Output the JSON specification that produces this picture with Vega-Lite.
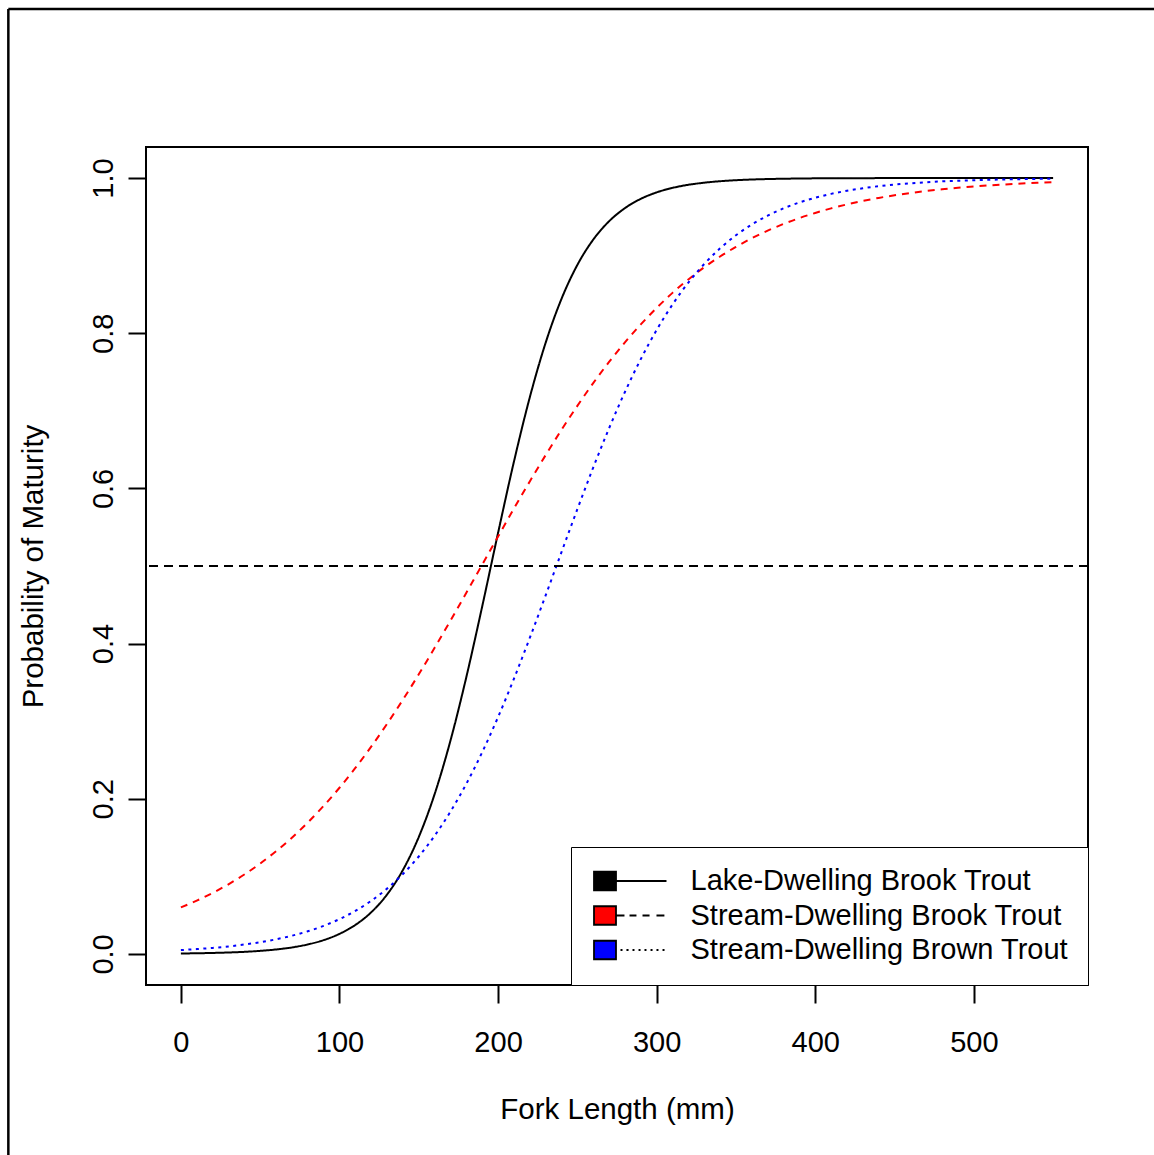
{
  "$schema": "https://vega.github.io/schema/vega-lite/v6.json",
  "width": 942,
  "height": 838,
  "autosize": {"type": "none"},
  "padding": {"left": 146, "top": 147, "right": 66, "bottom": 170},
  "background": "white",
  "config": {
    "font": "Liberation Sans",
    "view": {"stroke": "black", "strokeWidth": 2},
    "axis": {"labelFont": "Liberation Sans", "titleFont": "Liberation Sans"}
  },
  "datasets": {
    "curves": [
      {"series": "Lake-Dwelling Brook Trout", "length": 0, "p": 0.0006},
      {"series": "Lake-Dwelling Brook Trout", "length": 10, "p": 0.0009},
      {"series": "Lake-Dwelling Brook Trout", "length": 20, "p": 0.0013},
      {"series": "Lake-Dwelling Brook Trout", "length": 30, "p": 0.0019},
      {"series": "Lake-Dwelling Brook Trout", "length": 40, "p": 0.0027},
      {"series": "Lake-Dwelling Brook Trout", "length": 50, "p": 0.0040},
      {"series": "Lake-Dwelling Brook Trout", "length": 60, "p": 0.0058},
      {"series": "Lake-Dwelling Brook Trout", "length": 70, "p": 0.0084},
      {"series": "Lake-Dwelling Brook Trout", "length": 80, "p": 0.0123},
      {"series": "Lake-Dwelling Brook Trout", "length": 90, "p": 0.0178},
      {"series": "Lake-Dwelling Brook Trout", "length": 100, "p": 0.0259},
      {"series": "Lake-Dwelling Brook Trout", "length": 110, "p": 0.0374},
      {"series": "Lake-Dwelling Brook Trout", "length": 120, "p": 0.0537},
      {"series": "Lake-Dwelling Brook Trout", "length": 130, "p": 0.0766},
      {"series": "Lake-Dwelling Brook Trout", "length": 140, "p": 0.1082},
      {"series": "Lake-Dwelling Brook Trout", "length": 150, "p": 0.1507},
      {"series": "Lake-Dwelling Brook Trout", "length": 160, "p": 0.2060},
      {"series": "Lake-Dwelling Brook Trout", "length": 170, "p": 0.2751},
      {"series": "Lake-Dwelling Brook Trout", "length": 180, "p": 0.3569},
      {"series": "Lake-Dwelling Brook Trout", "length": 190, "p": 0.4479},
      {"series": "Lake-Dwelling Brook Trout", "length": 200, "p": 0.5426},
      {"series": "Lake-Dwelling Brook Trout", "length": 210, "p": 0.6344},
      {"series": "Lake-Dwelling Brook Trout", "length": 220, "p": 0.7173},
      {"series": "Lake-Dwelling Brook Trout", "length": 230, "p": 0.7877},
      {"series": "Lake-Dwelling Brook Trout", "length": 240, "p": 0.8443},
      {"series": "Lake-Dwelling Brook Trout", "length": 250, "p": 0.8880},
      {"series": "Lake-Dwelling Brook Trout", "length": 260, "p": 0.9206},
      {"series": "Lake-Dwelling Brook Trout", "length": 270, "p": 0.9443},
      {"series": "Lake-Dwelling Brook Trout", "length": 280, "p": 0.9612},
      {"series": "Lake-Dwelling Brook Trout", "length": 290, "p": 0.9732},
      {"series": "Lake-Dwelling Brook Trout", "length": 300, "p": 0.9815},
      {"series": "Lake-Dwelling Brook Trout", "length": 310, "p": 0.9873},
      {"series": "Lake-Dwelling Brook Trout", "length": 320, "p": 0.9913},
      {"series": "Lake-Dwelling Brook Trout", "length": 330, "p": 0.9940},
      {"series": "Lake-Dwelling Brook Trout", "length": 340, "p": 0.9959},
      {"series": "Lake-Dwelling Brook Trout", "length": 350, "p": 0.9972},
      {"series": "Lake-Dwelling Brook Trout", "length": 360, "p": 0.9981},
      {"series": "Lake-Dwelling Brook Trout", "length": 370, "p": 0.9987},
      {"series": "Lake-Dwelling Brook Trout", "length": 380, "p": 0.9991},
      {"series": "Lake-Dwelling Brook Trout", "length": 390, "p": 0.9994},
      {"series": "Lake-Dwelling Brook Trout", "length": 400, "p": 0.9996},
      {"series": "Lake-Dwelling Brook Trout", "length": 410, "p": 0.9997},
      {"series": "Lake-Dwelling Brook Trout", "length": 420, "p": 0.9998},
      {"series": "Lake-Dwelling Brook Trout", "length": 430, "p": 0.9998},
      {"series": "Lake-Dwelling Brook Trout", "length": 440, "p": 0.9999},
      {"series": "Lake-Dwelling Brook Trout", "length": 450, "p": 0.9999},
      {"series": "Lake-Dwelling Brook Trout", "length": 460, "p": 0.9999},
      {"series": "Lake-Dwelling Brook Trout", "length": 470, "p": 1.0},
      {"series": "Lake-Dwelling Brook Trout", "length": 480, "p": 1.0},
      {"series": "Lake-Dwelling Brook Trout", "length": 490, "p": 1.0},
      {"series": "Lake-Dwelling Brook Trout", "length": 500, "p": 1.0},
      {"series": "Lake-Dwelling Brook Trout", "length": 510, "p": 1.0},
      {"series": "Lake-Dwelling Brook Trout", "length": 520, "p": 1.0},
      {"series": "Lake-Dwelling Brook Trout", "length": 530, "p": 1.0},
      {"series": "Lake-Dwelling Brook Trout", "length": 540, "p": 1.0},
      {"series": "Lake-Dwelling Brook Trout", "length": 550, "p": 1.0},
      {"series": "Stream-Dwelling Brook Trout", "length": 0, "p": 0.0600},
      {"series": "Stream-Dwelling Brook Trout", "length": 10, "p": 0.0687},
      {"series": "Stream-Dwelling Brook Trout", "length": 20, "p": 0.0786},
      {"series": "Stream-Dwelling Brook Trout", "length": 30, "p": 0.0898},
      {"series": "Stream-Dwelling Brook Trout", "length": 40, "p": 0.1024},
      {"series": "Stream-Dwelling Brook Trout", "length": 50, "p": 0.1165},
      {"series": "Stream-Dwelling Brook Trout", "length": 60, "p": 0.1324},
      {"series": "Stream-Dwelling Brook Trout", "length": 70, "p": 0.1499},
      {"series": "Stream-Dwelling Brook Trout", "length": 80, "p": 0.1694},
      {"series": "Stream-Dwelling Brook Trout", "length": 90, "p": 0.1908},
      {"series": "Stream-Dwelling Brook Trout", "length": 100, "p": 0.2142},
      {"series": "Stream-Dwelling Brook Trout", "length": 110, "p": 0.2397},
      {"series": "Stream-Dwelling Brook Trout", "length": 120, "p": 0.2672},
      {"series": "Stream-Dwelling Brook Trout", "length": 130, "p": 0.2965},
      {"series": "Stream-Dwelling Brook Trout", "length": 140, "p": 0.3277},
      {"series": "Stream-Dwelling Brook Trout", "length": 150, "p": 0.3604},
      {"series": "Stream-Dwelling Brook Trout", "length": 160, "p": 0.3946},
      {"series": "Stream-Dwelling Brook Trout", "length": 170, "p": 0.4297},
      {"series": "Stream-Dwelling Brook Trout", "length": 180, "p": 0.4655},
      {"series": "Stream-Dwelling Brook Trout", "length": 190, "p": 0.5018},
      {"series": "Stream-Dwelling Brook Trout", "length": 200, "p": 0.5379},
      {"series": "Stream-Dwelling Brook Trout", "length": 210, "p": 0.5740},
      {"series": "Stream-Dwelling Brook Trout", "length": 220, "p": 0.6090},
      {"series": "Stream-Dwelling Brook Trout", "length": 230, "p": 0.6429},
      {"series": "Stream-Dwelling Brook Trout", "length": 240, "p": 0.6755},
      {"series": "Stream-Dwelling Brook Trout", "length": 250, "p": 0.7064},
      {"series": "Stream-Dwelling Brook Trout", "length": 260, "p": 0.7357},
      {"series": "Stream-Dwelling Brook Trout", "length": 270, "p": 0.7630},
      {"series": "Stream-Dwelling Brook Trout", "length": 280, "p": 0.7882},
      {"series": "Stream-Dwelling Brook Trout", "length": 290, "p": 0.8114},
      {"series": "Stream-Dwelling Brook Trout", "length": 300, "p": 0.8326},
      {"series": "Stream-Dwelling Brook Trout", "length": 310, "p": 0.8520},
      {"series": "Stream-Dwelling Brook Trout", "length": 320, "p": 0.8693},
      {"series": "Stream-Dwelling Brook Trout", "length": 330, "p": 0.8850},
      {"series": "Stream-Dwelling Brook Trout", "length": 340, "p": 0.8989},
      {"series": "Stream-Dwelling Brook Trout", "length": 350, "p": 0.9113},
      {"series": "Stream-Dwelling Brook Trout", "length": 360, "p": 0.9224},
      {"series": "Stream-Dwelling Brook Trout", "length": 370, "p": 0.9322},
      {"series": "Stream-Dwelling Brook Trout", "length": 380, "p": 0.9408},
      {"series": "Stream-Dwelling Brook Trout", "length": 390, "p": 0.9484},
      {"series": "Stream-Dwelling Brook Trout", "length": 400, "p": 0.9550},
      {"series": "Stream-Dwelling Brook Trout", "length": 410, "p": 0.9609},
      {"series": "Stream-Dwelling Brook Trout", "length": 420, "p": 0.9660},
      {"series": "Stream-Dwelling Brook Trout", "length": 430, "p": 0.9705},
      {"series": "Stream-Dwelling Brook Trout", "length": 440, "p": 0.9744},
      {"series": "Stream-Dwelling Brook Trout", "length": 450, "p": 0.9777},
      {"series": "Stream-Dwelling Brook Trout", "length": 460, "p": 0.9807},
      {"series": "Stream-Dwelling Brook Trout", "length": 470, "p": 0.9833},
      {"series": "Stream-Dwelling Brook Trout", "length": 480, "p": 0.9855},
      {"series": "Stream-Dwelling Brook Trout", "length": 490, "p": 0.9875},
      {"series": "Stream-Dwelling Brook Trout", "length": 500, "p": 0.9891},
      {"series": "Stream-Dwelling Brook Trout", "length": 510, "p": 0.9906},
      {"series": "Stream-Dwelling Brook Trout", "length": 520, "p": 0.9918},
      {"series": "Stream-Dwelling Brook Trout", "length": 530, "p": 0.9929},
      {"series": "Stream-Dwelling Brook Trout", "length": 540, "p": 0.9939},
      {"series": "Stream-Dwelling Brook Trout", "length": 550, "p": 0.9947},
      {"series": "Stream-Dwelling Brown Trout", "length": 0, "p": 0.0050},
      {"series": "Stream-Dwelling Brown Trout", "length": 10, "p": 0.0063},
      {"series": "Stream-Dwelling Brown Trout", "length": 20, "p": 0.0078},
      {"series": "Stream-Dwelling Brown Trout", "length": 30, "p": 0.0097},
      {"series": "Stream-Dwelling Brown Trout", "length": 40, "p": 0.0122},
      {"series": "Stream-Dwelling Brown Trout", "length": 50, "p": 0.0151},
      {"series": "Stream-Dwelling Brown Trout", "length": 60, "p": 0.0189},
      {"series": "Stream-Dwelling Brown Trout", "length": 70, "p": 0.0235},
      {"series": "Stream-Dwelling Brown Trout", "length": 80, "p": 0.0292},
      {"series": "Stream-Dwelling Brown Trout", "length": 90, "p": 0.0362},
      {"series": "Stream-Dwelling Brown Trout", "length": 100, "p": 0.0449},
      {"series": "Stream-Dwelling Brown Trout", "length": 110, "p": 0.0555},
      {"series": "Stream-Dwelling Brown Trout", "length": 120, "p": 0.0685},
      {"series": "Stream-Dwelling Brown Trout", "length": 130, "p": 0.0842},
      {"series": "Stream-Dwelling Brown Trout", "length": 140, "p": 0.1031},
      {"series": "Stream-Dwelling Brown Trout", "length": 150, "p": 0.1256},
      {"series": "Stream-Dwelling Brown Trout", "length": 160, "p": 0.1524},
      {"series": "Stream-Dwelling Brown Trout", "length": 170, "p": 0.1835},
      {"series": "Stream-Dwelling Brown Trout", "length": 180, "p": 0.2193},
      {"series": "Stream-Dwelling Brown Trout", "length": 190, "p": 0.2600},
      {"series": "Stream-Dwelling Brown Trout", "length": 200, "p": 0.3053},
      {"series": "Stream-Dwelling Brown Trout", "length": 210, "p": 0.3546},
      {"series": "Stream-Dwelling Brown Trout", "length": 220, "p": 0.4073},
      {"series": "Stream-Dwelling Brown Trout", "length": 230, "p": 0.4621},
      {"series": "Stream-Dwelling Brown Trout", "length": 240, "p": 0.5179},
      {"series": "Stream-Dwelling Brown Trout", "length": 250, "p": 0.5732},
      {"series": "Stream-Dwelling Brown Trout", "length": 260, "p": 0.6269},
      {"series": "Stream-Dwelling Brown Trout", "length": 270, "p": 0.6775},
      {"series": "Stream-Dwelling Brown Trout", "length": 280, "p": 0.7243},
      {"series": "Stream-Dwelling Brown Trout", "length": 290, "p": 0.7666},
      {"series": "Stream-Dwelling Brown Trout", "length": 300, "p": 0.8042},
      {"series": "Stream-Dwelling Brown Trout", "length": 310, "p": 0.8370},
      {"series": "Stream-Dwelling Brown Trout", "length": 320, "p": 0.8653},
      {"series": "Stream-Dwelling Brown Trout", "length": 330, "p": 0.8892},
      {"series": "Stream-Dwelling Brown Trout", "length": 340, "p": 0.9094},
      {"series": "Stream-Dwelling Brown Trout", "length": 350, "p": 0.9262},
      {"series": "Stream-Dwelling Brown Trout", "length": 360, "p": 0.9401},
      {"series": "Stream-Dwelling Brown Trout", "length": 370, "p": 0.9515},
      {"series": "Stream-Dwelling Brown Trout", "length": 380, "p": 0.9609},
      {"series": "Stream-Dwelling Brown Trout", "length": 390, "p": 0.9685},
      {"series": "Stream-Dwelling Brown Trout", "length": 400, "p": 0.9746},
      {"series": "Stream-Dwelling Brown Trout", "length": 410, "p": 0.9796},
      {"series": "Stream-Dwelling Brown Trout", "length": 420, "p": 0.9836},
      {"series": "Stream-Dwelling Brown Trout", "length": 430, "p": 0.9868},
      {"series": "Stream-Dwelling Brown Trout", "length": 440, "p": 0.9895},
      {"series": "Stream-Dwelling Brown Trout", "length": 450, "p": 0.9916},
      {"series": "Stream-Dwelling Brown Trout", "length": 460, "p": 0.9932},
      {"series": "Stream-Dwelling Brown Trout", "length": 470, "p": 0.9946},
      {"series": "Stream-Dwelling Brown Trout", "length": 480, "p": 0.9957},
      {"series": "Stream-Dwelling Brown Trout", "length": 490, "p": 0.9965},
      {"series": "Stream-Dwelling Brown Trout", "length": 500, "p": 0.9972},
      {"series": "Stream-Dwelling Brown Trout", "length": 510, "p": 0.9978},
      {"series": "Stream-Dwelling Brown Trout", "length": 520, "p": 0.9982},
      {"series": "Stream-Dwelling Brown Trout", "length": 530, "p": 0.9986},
      {"series": "Stream-Dwelling Brown Trout", "length": 540, "p": 0.9989},
      {"series": "Stream-Dwelling Brown Trout", "length": 550, "p": 0.9991}
    ]
  },
  "layer": [
    {
      "data": {"values": [{"k": 1}]},
      "mark": {"type": "rule", "color": "black", "strokeWidth": 2.5, "clip": false},
      "encoding": {
        "x": {"datum": -108.8, "type": "quantitative", "scale": {"domain": [-22, 572], "nice": false, "zero": false}},
        "y": {"datum": -2, "type": "quantitative", "scale": {"domain": [-0.04, 1.04], "nice": false, "zero": false}},
        "y2": {"datum": 1.218}
      }
    },
    {
      "data": {"values": [{"k": 1}]},
      "mark": {"type": "rule", "color": "black", "strokeWidth": 2.5, "clip": false},
      "encoding": {
        "y": {"datum": 1.218, "type": "quantitative", "scale": {"domain": [-0.04, 1.04], "nice": false, "zero": false}},
        "x": {"datum": -108.8, "type": "quantitative", "scale": {"domain": [-22, 572], "nice": false, "zero": false}},
        "x2": {"datum": 800}
      }
    },
    {
      "data": {"name": "curves"},
      "mark": {"type": "line", "strokeWidth": 2, "interpolate": "monotone", "strokeCap": "butt"},
      "encoding": {
        "x": {
          "field": "length", "type": "quantitative",
          "scale": {"domain": [-22, 572], "nice": false, "zero": false},
          "axis": {
            "values": [0, 100, 200, 300, 400, 500],
            "domain": false, "grid": false,
            "tickSize": 18, "tickWidth": 2, "tickColor": "black",
            "labelFontSize": 29, "labelColor": "black", "labelPadding": 25,
            "labelFlush": false, "labelOverlap": false, "labelBound": false,
            "title": "Fork Length (mm)", "titleFontSize": 29.5, "titleFontWeight": "normal",
            "titleColor": "black", "titlePadding": 38
          }
        },
        "y": {
          "field": "p", "type": "quantitative",
          "scale": {"domain": [-0.04, 1.04], "nice": false, "zero": false},
          "axis": {
            "values": [0, 0.2, 0.4, 0.6, 0.8, 1.0], "format": ".1f",
            "domain": false, "grid": false,
            "tickSize": 18, "tickWidth": 2, "tickColor": "black",
            "labelFontSize": 29, "labelColor": "black", "labelPadding": 16,
            "labelAngle": 270, "labelAlign": "center", "labelBaseline": "alphabetic",
            "labelFlush": false, "labelOverlap": false, "labelBound": false,
            "title": "Probability of Maturity", "titleFontSize": 29.5, "titleFontWeight": "normal",
            "titleColor": "black", "titlePadding": 41
          }
        },
        "color": {
          "field": "series", "type": "nominal",
          "scale": {"range": ["#000000", "#FF0000", "#0000FF"]},
          "legend": null
        },
        "strokeDash": {
          "field": "series", "type": "nominal",
          "scale": {"range": [[1, 0], [7, 6], [3, 4.5]]},
          "legend": null
        }
      }
    },
    {
      "data": {"values": [{"k": 1}]},
      "mark": {"type": "rule", "color": "black", "strokeWidth": 2, "strokeDash": [9, 6]},
      "encoding": {
        "y": {"datum": 0.5, "type": "quantitative", "scale": {"domain": [-0.04, 1.04], "nice": false, "zero": false}}
      }
    },
    {
      "data": {"name": "curves"},
      "mark": {"type": "point", "filled": true, "strokeWidth": 1.8, "opacity": 0},
      "encoding": {
        "x": {"field": "length", "type": "quantitative", "scale": {"domain": [-22, 572], "nice": false, "zero": false}},
        "y": {"field": "p", "type": "quantitative", "scale": {"domain": [-0.04, 1.04], "nice": false, "zero": false}},
        "fill": {
          "field": "series", "type": "nominal",
          "scale": {
            "domain": ["Lake-Dwelling Brook Trout", "Stream-Dwelling Brook Trout", "Stream-Dwelling Brown Trout"],
            "range": ["#000000", "#FF0000", "#0000FF"]
          },
          "legend": {
            "title": null,
            "orient": "bottom-right",
            "offset": 0,
            "strokeColor": "black",
            "fillColor": "white",
            "padding": 19.5,
            "symbolSize": 484,
            "symbolOpacity": 1,
            "symbolStrokeWidth": 1.8,
            "labelFont": "Liberation Sans",
            "labelFontSize": 29,
            "labelColor": "black",
            "labelOffset": 71,
            "labelLimit": 700,
            "rowPadding": 4.5
          }
        },
        "stroke": {
          "field": "series", "type": "nominal",
          "scale": {
            "domain": ["Lake-Dwelling Brook Trout", "Stream-Dwelling Brook Trout", "Stream-Dwelling Brown Trout"],
            "range": ["#000000", "#000000", "#000000"]
          },
          "legend": {
            "title": null,
            "orient": "bottom-right",
            "offset": 0,
            "strokeColor": "black",
            "fillColor": "white",
            "padding": 19.5,
            "symbolSize": 484,
            "symbolOpacity": 1,
            "symbolStrokeWidth": 1.8,
            "labelFont": "Liberation Sans",
            "labelFontSize": 29,
            "labelColor": "black",
            "labelOffset": 71,
            "labelLimit": 700,
            "rowPadding": 4.5
          }
        },
        "shape": {
          "field": "series", "type": "nominal",
          "scale": {
            "domain": ["Lake-Dwelling Brook Trout", "Stream-Dwelling Brook Trout", "Stream-Dwelling Brown Trout"],
            "range": [
              "M-1,-0.84H1V0.84H-1ZM1,0H5.59",
              "M-1,-0.84H1V0.84H-1ZM1,0H1.77M2.23,0H2.86M3.41,0H4.05M4.68,0H5.4",
              "M-1,-0.84H1V0.84H-1ZM1.41,0H1.59M1.95,0H2.14M2.5,0H2.68M3.05,0H3.23M3.59,0H3.77M4.14,0H4.32M4.68,0H4.86M5.23,0H5.41"
            ]
          },
          "legend": {
            "title": null,
            "orient": "bottom-right",
            "offset": 0,
            "strokeColor": "black",
            "fillColor": "white",
            "padding": 19.5,
            "symbolSize": 484,
            "symbolOpacity": 1,
            "symbolStrokeWidth": 1.8,
            "labelFont": "Liberation Sans",
            "labelFontSize": 29,
            "labelColor": "black",
            "labelOffset": 71,
            "labelLimit": 700,
            "rowPadding": 4.5
          }
        }
      }
    }
  ]
}
